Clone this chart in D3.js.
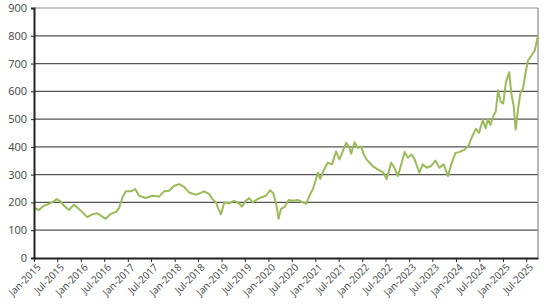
<!DOCTYPE html>
<html>
<head>
<meta charset="utf-8">
<script src="https://cdn.jsdelivr.net/npm/d3@7"></script>
<style>
  body { margin: 0; background: #fff; }
  svg text { font-family: "Open Sans", "DejaVu Sans", sans-serif; }
</style>
</head>
<body>
<div id="chart"></div>
<script>
// dates of the readings and their values
const dates = [
  "2015-01-01","2015-02-09","2015-03-17","2015-04-26","2015-06-04","2015-06-27","2015-07-26","2015-08-21",
  "2015-09-30","2015-11-08","2015-12-17","2016-01-25","2016-02-20","2016-03-29","2016-05-07","2016-06-16",
  "2016-07-12","2016-08-21","2016-09-29","2016-10-25","2016-11-20","2016-12-16","2017-01-25","2017-02-27",
  "2017-03-29","2017-05-20","2017-07-10","2017-09-02","2017-10-10","2017-11-19","2017-12-28","2018-02-06",
  "2018-03-15","2018-04-23","2018-06-14","2018-07-10","2018-08-18","2018-09-27","2018-10-22","2018-11-18",
  "2018-12-08","2018-12-27","2019-01-22","2019-03-01","2019-04-09","2019-05-17","2019-06-08","2019-07-09",
  "2019-08-04","2019-08-30","2019-10-08","2019-11-04","2019-12-13","2020-01-14","2020-02-09","2020-03-01",
  "2020-03-20","2020-04-08","2020-05-04","2020-06-07","2020-07-08","2020-08-16","2020-09-25","2020-10-21",
  "2020-11-16","2020-12-12","2021-01-02","2021-01-20","2021-02-08","2021-03-04","2021-04-07","2021-05-11",
  "2021-06-11","2021-07-07","2021-08-02","2021-08-29","2021-09-24","2021-10-07","2021-11-02","2021-11-28",
  "2021-12-24","2022-01-11","2022-02-02","2022-02-28","2022-03-23","2022-05-01","2022-06-15","2022-07-10",
  "2022-08-14","2022-09-09","2022-10-05","2022-11-01","2022-11-27","2022-12-22","2023-01-18","2023-02-13",
  "2023-03-22","2023-04-17","2023-05-18","2023-06-21","2023-07-25","2023-08-25","2023-09-27","2023-10-31",
  "2023-11-25","2023-12-28","2024-01-30","2024-03-09","2024-04-12","2024-05-01","2024-06-04","2024-06-28",
  "2024-07-28","2024-08-19","2024-09-06","2024-09-25","2024-10-21","2024-11-06","2024-11-24","2024-12-15",
  "2025-01-03","2025-01-24","2025-02-19","2025-03-07","2025-03-25","2025-04-10","2025-04-28","2025-05-16",
  "2025-06-06","2025-06-27","2025-07-15","2025-08-10","2025-09-05","2025-10-01"
];
const values = [
  180,173,188,195,204,212,204,189,
  173,192,177,159,147,157,161,149,
  141,159,165,180,218,240,240,248,
  224,216,224,221,240,242,260,266,
  256,236,228,232,240,230,212,200,
  177,157,200,197,206,197,185,206,
  216,200,212,218,224,244,232,195,
  141,177,183,209,206,209,200,195,
  224,248,278,307,285,313,343,337,
  384,355,384,415,396,375,417,396,
  402,375,355,343,331,319,307,284,
  343,325,295,337,382,361,373,355,
  307,337,325,331,351,325,337,295,
  337,378,382,390,408,432,465,450,
  497,467,500,479,515,527,604,562,
  556,633,669,592,550,462,533,592,
  610,669,711,728,746,800
];
const yTicks = [0,100,200,300,400,500,600,700,800,900];
const xStart = "2015-01-01";
const xEnd = "2025-10-01";

const width = 554, height = 307;
const margin = { top: 8, right: 16, bottom: 49, left: 34 };

const parse = d3.timeParse("%Y-%m-%d");
const data = dates.map((d, i) => ({ date: parse(d), value: values[i] }));

const svg = d3.select("#chart").append("svg")
  .attr("width", width)
  .attr("height", height);

const x = d3.scaleTime()
  .domain([parse(xStart), parse(xEnd)])
  .range([margin.left, width - margin.right]);

const y = d3.scaleLinear()
  .domain([0, 900])
  .range([height - margin.bottom, margin.top]);

// horizontal grid lines
svg.append("g")
  .selectAll("line")
  .data(yTicks.filter(d => d > 0))
  .enter()
  .append("line")
  .attr("x1", margin.left)
  .attr("x2", width - margin.right)
  .attr("y1", d => y(d))
  .attr("y2", d => y(d))
  .attr("stroke", d => d === 900 ? "#8a8a8a" : "#555")
  .attr("stroke-width", 1.2);

// right border
svg.append("line")
  .attr("x1", width - margin.right)
  .attr("x2", width - margin.right)
  .attr("y1", y(900))
  .attr("y2", y(0))
  .attr("stroke", "#8a8a8a")
  .attr("stroke-width", 1.2);

// the series
const line = d3.line()
  .x(d => x(d.date))
  .y(d => y(d.value));

svg.append("path")
  .datum(data)
  .attr("d", line)
  .attr("fill", "none")
  .attr("stroke", "#9bbb59")
  .attr("stroke-width", 2)
  .attr("stroke-linejoin", "round");

// y axis
const yAxis = svg.append("g")
  .attr("transform", "translate(" + margin.left + ",0)")
  .call(d3.axisLeft(y).tickValues(yTicks).tickSize(3).tickPadding(4));
yAxis.select(".domain").attr("stroke", "#222").attr("stroke-width", 2);
yAxis.selectAll(".tick line").attr("stroke", "#222");
yAxis.selectAll("text").attr("fill", "#444").style("font-size", "11px");

// x axis
const xAxis = svg.append("g")
  .attr("transform", "translate(0," + y(0) + ")")
  .call(d3.axisBottom(x)
    .ticks(d3.timeMonth.every(6))
    .tickFormat(d3.timeFormat("%b-%Y"))
    .tickSize(4)
    .tickSizeOuter(0));
xAxis.select(".domain").attr("stroke", "#222").attr("stroke-width", 2);
xAxis.selectAll(".tick line").attr("stroke", "#222");
xAxis.selectAll("text")
  .attr("fill", "#444")
  .style("font-size", "10px")
  .style("text-anchor", "end")
  .attr("dx", "-0.2em")
  .attr("dy", "0.5em")
  .attr("transform", "rotate(-45)");
</script>
</body>
</html>
